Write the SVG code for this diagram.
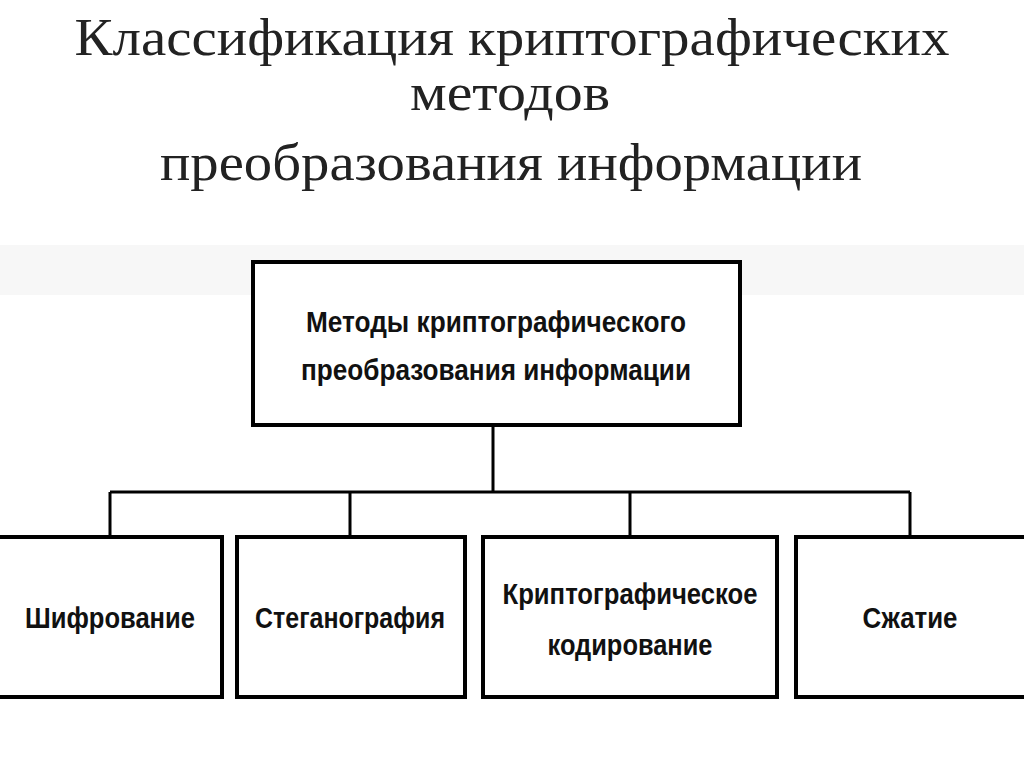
<svg xmlns="http://www.w3.org/2000/svg" width="1024" height="767" viewBox="0 0 1024 767">
<style>
.t{font-family:"Liberation Serif","DejaVu Serif",serif;font-size:52px;fill:#222;text-anchor:middle}
.b{fill:#fff;stroke:#000;stroke-width:4}
.l{font-family:"Liberation Sans","DejaVu Sans",sans-serif;font-weight:bold;font-size:29px;fill:#111;text-anchor:middle}
.c{fill:none;stroke:#000;stroke-width:3}
</style>
<rect width="1024" height="767" fill="#fff"/>
<rect x="0" y="245" width="1024" height="50" fill="#f7f7f7"/>
<text class="t" x="512" y="55" textLength="875" lengthAdjust="spacingAndGlyphs">Классификация криптографических</text>
<text class="t" x="510" y="110" textLength="200" lengthAdjust="spacingAndGlyphs">методов</text>
<text class="t" x="511" y="180" textLength="702" lengthAdjust="spacingAndGlyphs">преобразования информации</text>
<g id="connectors">
<path class="c" d="M493 425V492M110 492H910M110 492V537M350 492V537M630 492V537M910 492V537"/>
</g>
<g id="root"><rect class="b" x="253" y="262" width="487" height="163"/>
<text class="l" x="496" y="332" textLength="380" lengthAdjust="spacingAndGlyphs">Методы криптографического</text>
<text class="l" x="496" y="380" textLength="390" lengthAdjust="spacingAndGlyphs">преобразования информации</text></g>
<g id="n1"><rect class="b" x="-4" y="537" width="226" height="160"/><text class="l" x="110" y="628" textLength="170" lengthAdjust="spacingAndGlyphs">Шифрование</text></g>
<g id="n2"><rect class="b" x="237" y="537" width="228" height="160"/><text class="l" x="350" y="628" textLength="190" lengthAdjust="spacingAndGlyphs">Стеганография</text></g>
<g id="n3"><rect class="b" x="483" y="537" width="294" height="160"/><text class="l" x="630" y="604" textLength="255" lengthAdjust="spacingAndGlyphs">Криптографическое</text><text class="l" x="630" y="655" textLength="165" lengthAdjust="spacingAndGlyphs">кодирование</text></g>
<g id="n4"><rect class="b" x="796" y="537" width="232" height="160"/><text class="l" x="910" y="628" textLength="95" lengthAdjust="spacingAndGlyphs">Сжатие</text></g>
</svg>
